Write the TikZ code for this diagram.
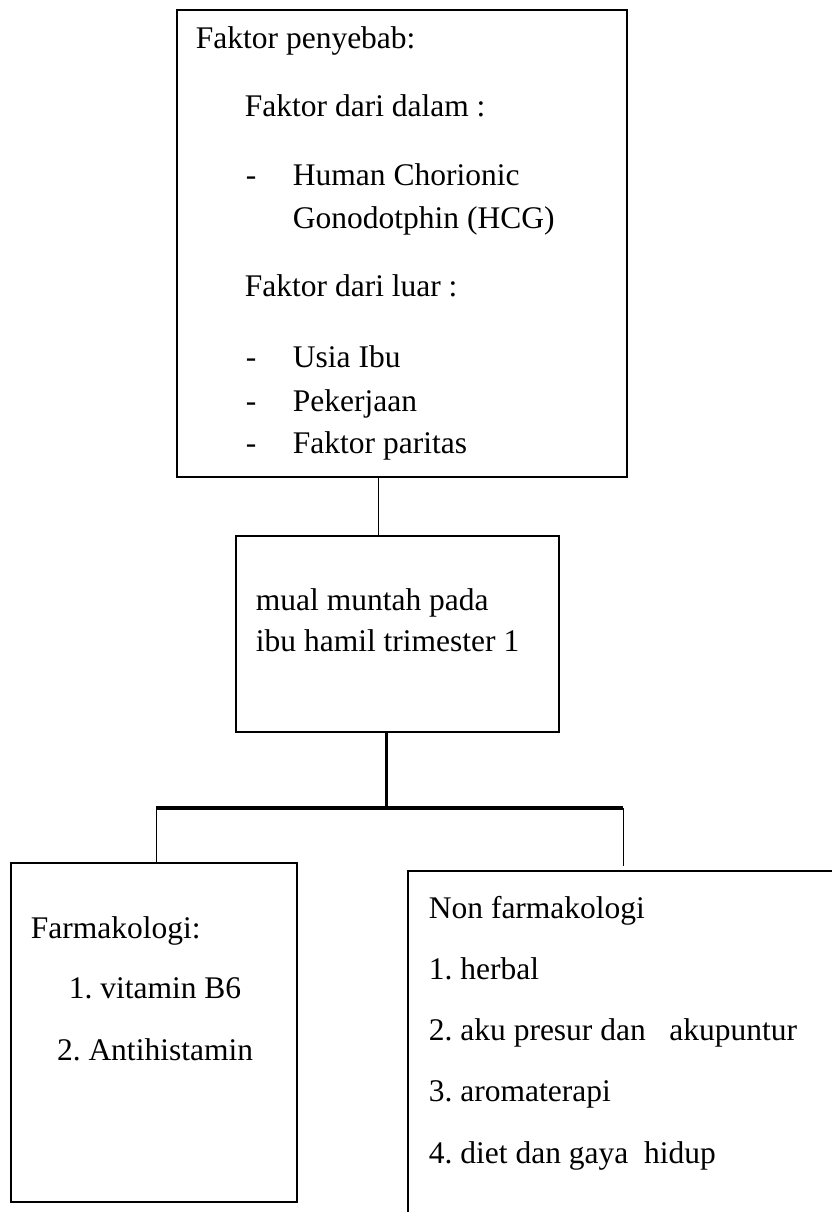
\documentclass[tikz,border=0pt]{standalone}
\usepackage{fontspec}
\setmainfont{Liberation Serif}
\usetikzlibrary{positioning, calc}
\frenchspacing
\tikzset{
  box/.style={draw, rectangle, line width=2.6pt, inner sep=0pt},
  txt/.style={anchor=base west, inner sep=0pt},
  ctxt/.style={anchor=base, inner sep=0pt},
  stub/.style={line width=0.9pt},
  trunk/.style={line width=3.4pt}
}

\begin{document}
\begin{tikzpicture}[x=1pt, y=-1pt, font=\fontsize{31.5}{40}\selectfont]

  \useasboundingbox (0,0) rectangle (832,1212);
  \clip (0,0) rectangle (832,1212);

  % Faktor penyebab box

  \node[box, minimum width=450pt, minimum height=467pt] (penyebab) at (402,243.5) {};
  \node[txt] (fp) at ($(penyebab.north west)+(20,40)$) {Faktor penyebab:};
  \node[txt] (dalam) at ($(penyebab.north west)+(69,108)$) {Faktor dari dalam :};
  \node[txt] (d1dash) at ($(penyebab.north west)+(70,177)$) {-};
  \node[txt] (d1) at ($(penyebab.north west)+(117,177)$) {Human Chorionic};
  \node[txt] (d1b) at ($(d1.base west)+(0,43)$) {Gonodotphin (HCG)};
  \node[txt] (luar) at ($(penyebab.north west)+(69,288)$) {Faktor dari luar :};
  \node[txt] (l1dash) at ($(penyebab.north west)+(70,359)$) {-};
  \node[txt] (l1) at ($(penyebab.north west)+(117,359)$) {Usia Ibu};
  \node[txt] (l2dash) at ($(l1dash.base west)+(0,44)$) {-};
  \node[txt] (l2) at ($(l1.base west)+(0,44)$) {Pekerjaan};
  \node[txt] (l3dash) at ($(l2dash.base west)+(0,42)$) {-};
  \node[txt] (l3) at ($(l2.base west)+(0,42)$) {Faktor paritas};

  % mual muntah box

  \node[box, minimum width=323pt, minimum height=196pt] (mual) at (397.5,634) {};
  \node[txt] (m1) at ($(mual.north west)+(21,76)$) {mual muntah pada};
  \node[txt] (m2) at ($(m1.base west)+(0,41)$) {ibu hamil trimester 1};

  % Farmakologi box

  \node[box, minimum width=286pt, minimum height=339pt] (farma) at (154,1032.5) {};
  \node[txt] (f0) at ($(farma.north west)+(21,77)$) {Farmakologi:};
  \node[ctxt] (f1) at ($(farma.north)+(1,137)$) {1. vitamin B6};
  \node[ctxt] (f2) at ($(f1.base)+(0,62)$) {2. Antihistamin};

  % Non farmakologi box

  \node[box, minimum width=437pt, minimum height=354pt] (nonfarma) at (626.5,1048) {};
  \node[txt] (n0) at ($(nonfarma.north west)+(22,49)$) {Non farmakologi};
  \node[txt] (n1) at ($(n0.base west)+(0,61)$) {1. herbal};
  \node[txt] (n2) at ($(n1.base west)+(0,61)$) {2. aku presur dan\ \ \ akupuntur};
  \node[txt] (n3) at ($(n2.base west)+(0,61)$) {3. aromaterapi};
  \node[txt] (n4) at ($(n3.base west)+(0,62)$) {4. diet dan gaya\ \ hidup};

  % connectors

  \coordinate (j1) at ($(penyebab.south west)+(203,0)$);
  \draw[stub] (j1) -- (j1 |- mual.north);

  \coordinate (j2) at ($(mual.south west)+(152,0)$);
  \coordinate (barL) at (156,808);
  \coordinate (barR) at (623,808);
  \draw[trunk] (j2) -- (j2 |- barL);
  \draw[trunk] (barL) -- (barR);
  \draw[stub] (barL) -- (barL |- farma.north);
  \draw[stub] (barR) -- ($(barR |- nonfarma.north)+(0,-4)$);

\end{tikzpicture}
\end{document}
